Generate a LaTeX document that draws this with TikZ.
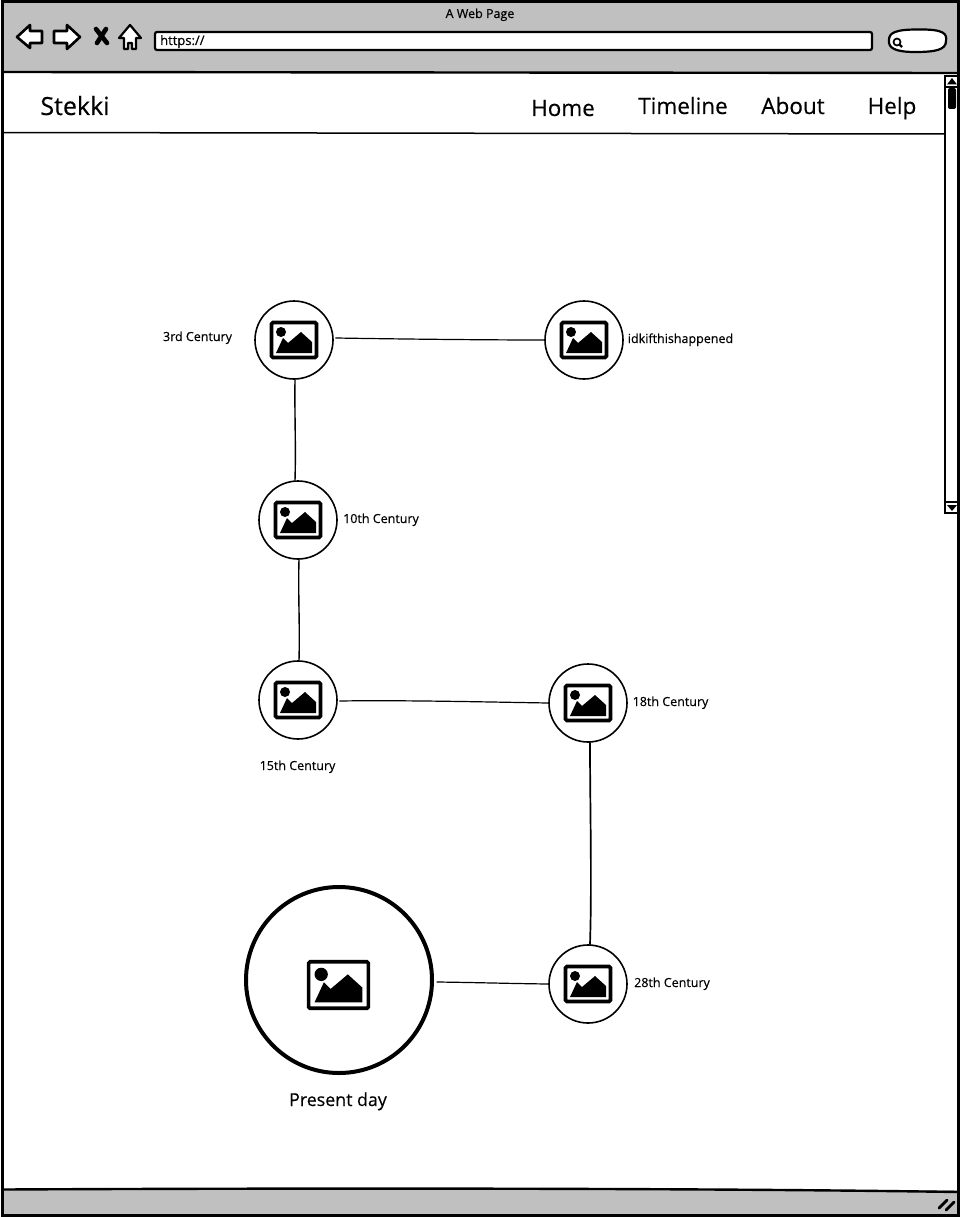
\documentclass[tikz,border=0pt]{standalone}
\usepackage{fontspec}
\setmainfont{Open Sans}[RawFeature={embolden=0.35}]
\definecolor{chrome}{HTML}{C0C0C0}
\tikzset{
  x=1pt,y=-1pt,
  ink/.style={draw=black,line width=2.6pt,line join=round},
  thinline/.style={draw=black,line width=1.2pt,line cap=round},
  spot/.style={circle,draw=black,line width=1.6pt,minimum size=78pt,inner sep=0pt,fill=white},
  bigspot/.style={circle,draw=black,line width=4pt,minimum size=186pt,inner sep=0pt,fill=white},
  small/.style={font=\fontsize{12.5}{14}\selectfont,inner sep=0pt,anchor=base},
  nav/.style={font=\fontsize{22.5}{26}\selectfont,inner sep=0pt,anchor=base},
  photo/.pic={
    \draw[black,line width=3.6pt,rounded corners=1.5pt,fill=white] (-22.5,-17.5) rectangle (22.5,17.5);
    \fill[black] (-13,-8) circle (5);
    \fill[black] (-18,13) -- (-11,-2) -- (-6,3) -- (7,-8) -- (18,2) -- (18,13) -- cycle;
  }
}
\begin{document}
\begin{tikzpicture}
\useasboundingbox (0,0) rectangle (960,1217);
% window
\fill[white] (0,0) rectangle (960,1217);
\fill[chrome] (2,2) rectangle (958,72);
\fill[chrome] (2,1190) rectangle (958,1215);
\draw[black,line width=2.4pt] (2,1189.5) .. controls (300,1188) and (700,1188) .. (958,1192);
\draw[black,line width=2.4pt] (2,72) -- (958,73);
\draw[black,line width=3pt] (2,2) rectangle (958,1215);
\draw[black,line width=1.5pt] (2,132.5) -- (945,134);
% toolbar
\node[small] (title) at (480,18) {A Web Page};
\draw[ink,fill=white] (17,37) -- (30,25) -- (30,31) -- (42,31) -- (42,43) -- (30,43) -- (30,48) -- cycle;
\draw[ink,fill=white] (80,37) -- (67,25) -- (67,31) -- (54,31) -- (54,43) -- (67,43) -- (67,49) -- cycle;
\draw[black,line width=4.6pt,line cap=round] (96,29) -- (107,43);
\draw[black,line width=4.6pt,line cap=round] (106,29) -- (97,43);
\draw[black,line width=2.2pt,line join=round,fill=white] (130,25) -- (141,38) -- (136,38) -- (136,49) -- (132,49) -- (132,43) -- (128,43) -- (128,49) -- (124,49) -- (124,38) -- (119,38) -- cycle;
\draw[black,line width=2.2pt,fill=white,rounded corners=2pt] (155,32) rectangle (872,50);
\node[small,anchor=base west,font=\fontsize{13}{15}\selectfont] (url) at (160,45) {https://};
\draw[black,line width=2.2pt,fill=white] (917,29.5) .. controls (945,29) and (947,34) .. (946,41) .. controls (946,50) and (935,52) .. (915,52) .. controls (895,52) and (888,48) .. (889,40) .. controls (889,33) and (895,29.5) .. (917,29.5) -- cycle;
\draw[black,line width=1.7pt] (897,42) circle (3.5);
\draw[black,line width=2.2pt] (899.5,44.5) -- (902,47);
% nav
\node[nav,font=\fontsize{25}{28}\selectfont] (stekki) at (75,115) {Stekki};
\node[nav] (home) at (563,116) {Home};
\node[nav] (timeline) at (683,114) {Timeline};
\node[nav] (about) at (793,114) {About};
\node[nav] (help) at (892,114) {Help};
% scrollbar
\draw[black,line width=1.6pt,fill=white] (945,76) rectangle (958,513);
\draw[black,line width=1.4pt] (945,87) -- (958,87);
\draw[black,line width=1.4pt] (945,502) -- (958,502);
\fill[black] (952,78) -- (957,84.5) -- (947,84.5) -- cycle;
\fill[black] (947,505) -- (957,505) -- (952,511) -- cycle;
\fill[black,rounded corners=2pt] (948,88) rectangle (956,109);
% timeline nodes
\node[spot] (c1) at (294,340) {};
\node[spot] (c2) at (584,340) {};
\node[spot] (c3) at (298,520) {};
\node[spot] (c4) at (298,700) {};
\node[spot] (c5) at (588,703) {};
\node[spot] (c6) at (588,984) {};
\node[bigspot] (c7) at (339,980) {};
\pic at (c1) {photo};
\pic at (c2) {photo};
\pic at (c3) {photo};
\pic at (c4) {photo};
\pic at (c5) {photo};
\pic at (c6) {photo};
\pic[scale=1.33] at (338.5,985) {photo};
% connectors
\draw[thinline] ([shift={(2,-2)}]c1.east) .. controls +(60,1) and +(-60,0) .. (c2.west);
\draw[thinline,line width=1.4pt] ([shift={(1,0)}]c1.south) .. controls +(-0.5,35) and +(1,-35) .. ([shift={(-3,0)}]c3.north);
\draw[thinline,line width=1.4pt] ([shift={(1,0)}]c3.south) .. controls +(-1,35) and +(1,-35) .. ([shift={(1,0)}]c4.north);
\draw[thinline] ([shift={(2,1)}]c4.east) .. controls +(60,-1) and +(-60,-1) .. (c5.west);
\draw[thinline,line width=1.7pt] ([shift={(2,0)}]c5.south) .. controls +(0,60) and +(2,-60) .. ([shift={(2,0)}]c6.north);
\draw[thinline] ([shift={(3,2)}]c7.east) .. controls +(40,0.5) and +(-40,-0.5) .. (c6.west);
% labels
\node[small] (l1) at (197.5,341) {3rd Century};
\node[small] (l2) at (680.5,343) {idkifthishappened};
\node[small] (l3) at (381,523) {10th Century};
\node[small] (l4) at (297.5,770) {15th Century};
\node[small] (l5) at (670.5,706) {18th Century};
\node[small] (l6) at (672,987) {28th Century};
\node[font=\fontsize{17.8}{20}\selectfont,inner sep=0pt,anchor=base] (l7) at (338,1106) {Present day};
% resize grip
\draw[black,line width=2.8pt,line cap=round] (939,1208) -- (947,1200);
\draw[black,line width=2.8pt,line cap=round] (946,1210) -- (954,1202);
\end{tikzpicture}
\end{document}
